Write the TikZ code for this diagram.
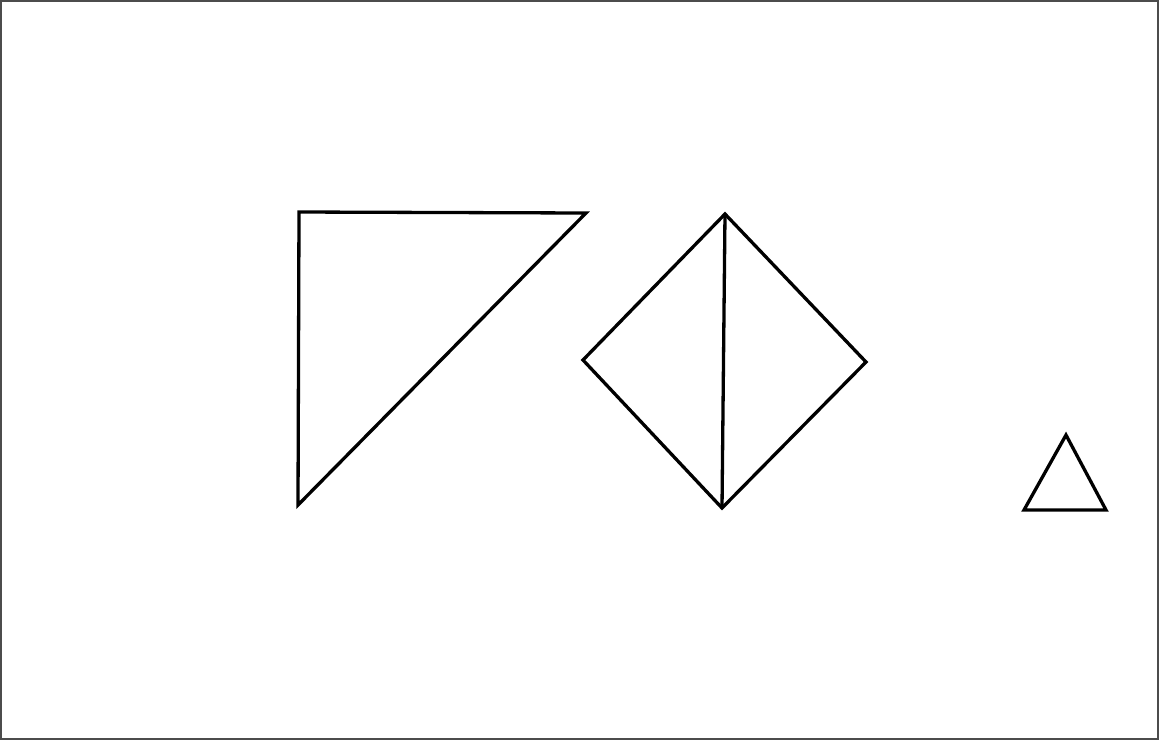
\documentclass[tikz,border=0pt]{standalone}
\begin{document}
\begin{tikzpicture}[x=1pt,y=-1pt,
  shapeline/.style={draw=black,line width=3.3pt,line join=miter},
  frameline/.style={draw=black!70,line width=1.5pt}]
\useasboundingbox (0,0) rectangle (1159,740);
\draw[frameline] (1,1) rectangle (1158,739);
% right triangle
\coordinate (tA) at (299,212);
\coordinate (tB) at (586,213);
\coordinate (tC) at (298,505);
\draw[shapeline] (tA) -- (tB) -- (tC) -- cycle;
% diamond
\coordinate (dT) at (725,214);
\coordinate (dL) at (583,360);
\coordinate (dR) at (866,362);
\coordinate (dB) at (722,508);
\draw[shapeline] (dT) -- (dR) -- (dB) -- (dL) -- cycle;
\draw[shapeline] (dT) -- (dB);
% small triangle
\coordinate (sT) at (1066,435);
\coordinate (sL) at (1024,510);
\coordinate (sR) at (1106,510);
\draw[shapeline] (sT) -- (sR) -- (sL) -- cycle;
\end{tikzpicture}
\end{document}
